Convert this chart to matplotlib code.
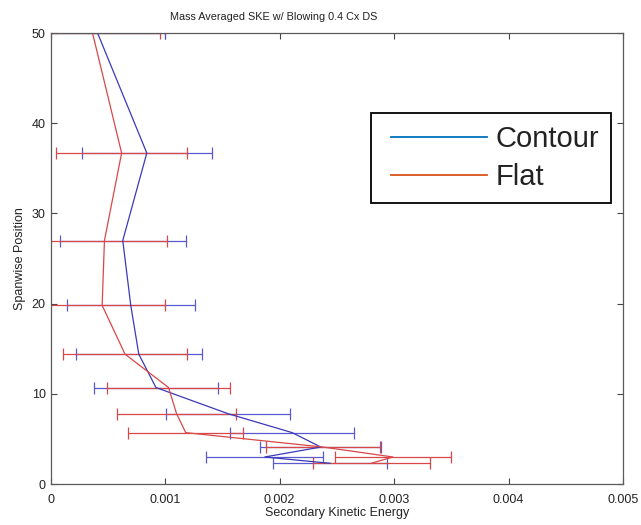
import matplotlib.pyplot as plt
from matplotlib.lines import Line2D
from matplotlib.legend_handler import HandlerLine2D

plt.rcParams['font.family'] = ['Liberation Sans', 'DejaVu Sans']

# spanwise positions (shared by both series)
span_pos = [50, 36.7, 27, 19.8, 14.4, 10.7, 7.8, 5.7, 4.1, 3.0, 2.3]

contour_ske = [0.00041, 0.00084, 0.00063, 0.00070, 0.00077, 0.00092,
               0.00155, 0.00211, 0.00236, 0.00187, 0.00244]
contour_err = [0.00059, 0.00057, 0.00055, 0.00056, 0.00055, 0.00054,
               0.00054, 0.00054, 0.00053, 0.00051, 0.00050]

flat_ske = [0.000366, 0.00062, 0.00047, 0.00045, 0.00065, 0.00103,
            0.00110, 0.00118, 0.00238, 0.00299, 0.00280]
flat_err = [0.00059, 0.00057, 0.00055, 0.00055, 0.00054, 0.00054,
            0.00052, 0.00050, 0.00050, 0.00051, 0.00051]

fig = plt.figure(figsize=(6.41, 5.25), dpi=100)
ax = fig.add_axes([0.079, 0.078, 0.893, 0.859])

ax.errorbar(contour_ske, span_pos, xerr=contour_err, color="#3a3ab8",
            ecolor="#5a5ad0", lw=0.9, elinewidth=0.9, capsize=4, capthick=0.9)
ax.errorbar(flat_ske, span_pos, xerr=flat_err, color="#d84848",
            ecolor="#d84848", lw=0.9, elinewidth=0.9, capsize=4, capthick=0.9)

ax.set_xlim(0, 0.005)
ax.set_ylim(0, 50)
ax.set_xticks([0, 0.001, 0.002, 0.003, 0.004, 0.005])
ax.set_xticklabels(["0", "0.001", "0.002", "0.003", "0.004", "0.005"])
ax.set_yticks([0, 10, 20, 30, 40, 50])
ax.tick_params(direction="in", labelsize=9, length=4, top=True, right=True,
               colors="#444444", labelcolor="#222222")
ax.tick_params(axis="x", pad=7)
for s in ax.spines.values():
    s.set_color("#5a5a5a")
    s.set_linewidth(0.9)

fig.text(274 / 641, 1 - 17 / 525, "Mass Averaged SKE w/ Blowing 0.4 Cx DS",
         fontsize=7.8, ha="center", va="center", color="#222222")
ax.set_xlabel("Secondary Kinetic Energy", fontsize=9, labelpad=1,
              color="#222222")
ax.set_ylabel("Spanwise Position", fontsize=9, labelpad=4, color="#222222")

handles = [Line2D([], [], color="#0072BD", lw=1.3),
           Line2D([], [], color="#D95319", lw=1.3)]
leg = ax.legend(handles, ["Contour", "Flat"], loc="upper right",
                bbox_to_anchor=(0.979, 0.8226), fontsize=21, fancybox=False,
                framealpha=1, edgecolor="black", handlelength=3.56,
                handletextpad=0.27, borderpad=0.42, labelspacing=0.34,
                borderaxespad=0,
                handler_map={Line2D: HandlerLine2D(xpad=0.27)})
leg.get_frame().set_linewidth(1.3)
for t in leg.get_texts():
    t.set_color("#222222")

plt.savefig("out.png", dpi=100)
